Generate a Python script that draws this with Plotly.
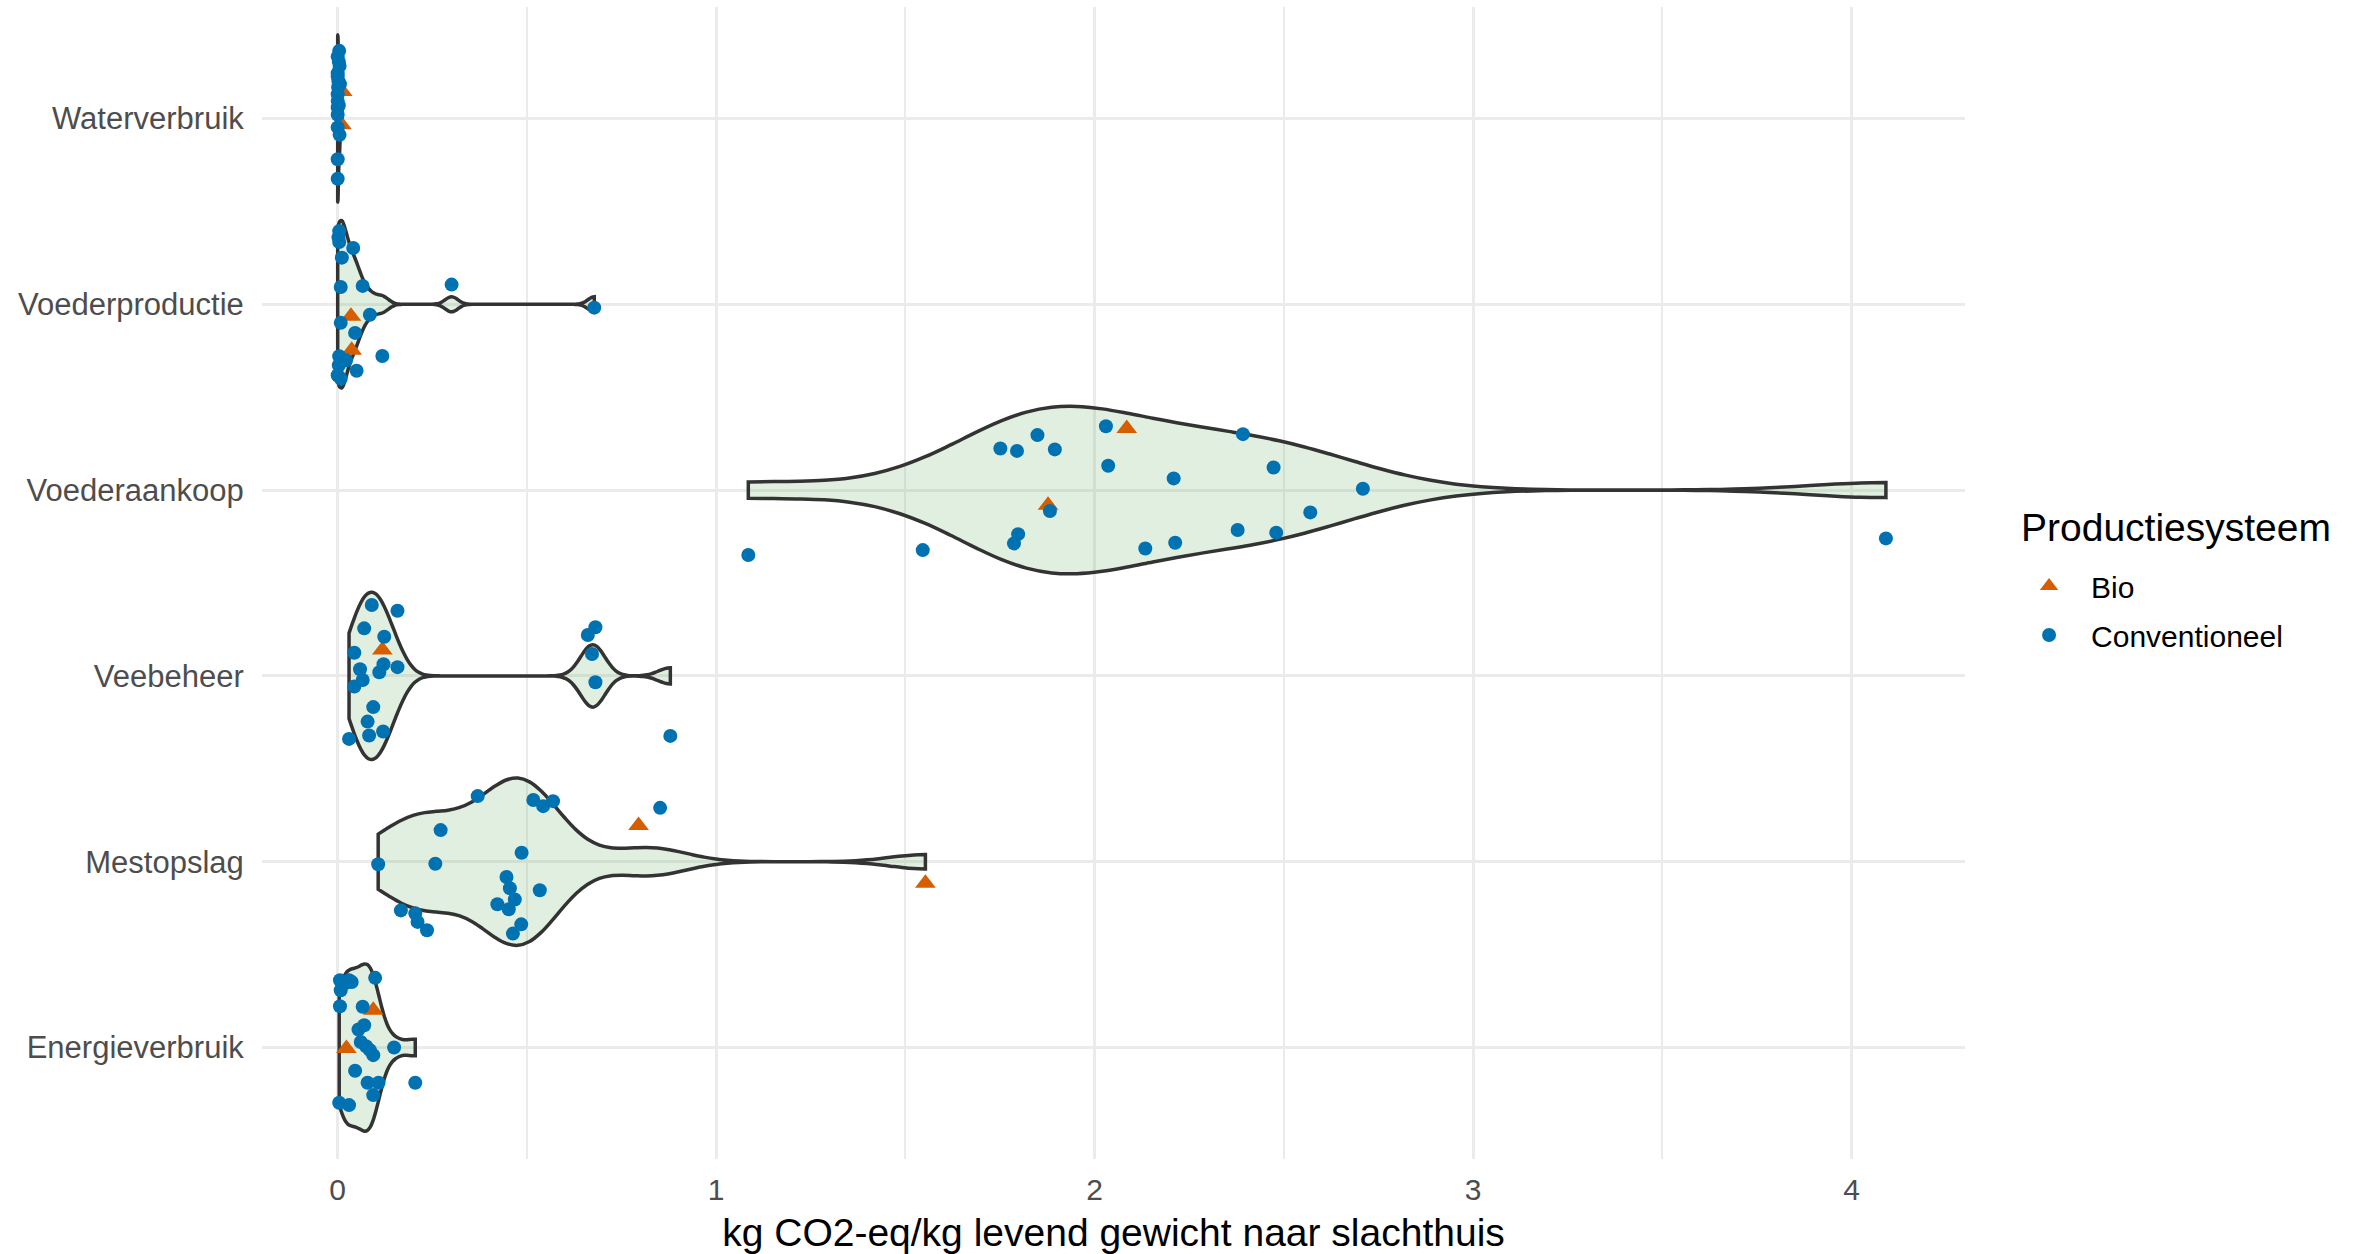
import numpy as np
import plotly.graph_objects as go

# categories bottom -> top
categories = ["Energieverbruik", "Mestopslag", "Veebeheer", "Voederaankoop", "Voederproductie", "Waterverbruik"]

# values (kg CO2-eq/kg) and vertical jitter offsets
energie_conv_x = [0.006, 0.022, 0.037, 0.008, 0.099, 0.006, 0.066, 0.070, 0.055, 0.061, 0.075,
                  0.085, 0.094, 0.149, 0.046, 0.079, 0.108, 0.094, 0.205, 0.004, 0.030, 0.030]
energie_conv_dy = [0.362, 0.348, 0.353, 0.308, 0.375, 0.222, 0.219, 0.120, 0.097, 0.030, 0.007,
                   -0.014, -0.041, 0.000, -0.125, -0.190, -0.190, -0.256, -0.190, -0.297, -0.310, 0.362]
energie_bio_x = [0.094, 0.023]
energie_bio_dy = [0.200, -0.005]

mest_conv_x = [0.370, 0.517, 0.543, 0.569, 0.852, 0.272, 0.486, 0.107, 0.258, 0.446, 0.455,
               0.534, 0.468, 0.422, 0.452, 0.485, 0.463, 0.167, 0.205, 0.211, 0.236]
mest_conv_dy = [0.353, 0.332, 0.299, 0.326, 0.290, 0.170, 0.048, -0.014, -0.011, -0.082, -0.143,
                -0.154, -0.203, -0.229, -0.256, -0.337, -0.387, -0.262, -0.278, -0.324, -0.369]
mest_bio_x = [0.795, 1.553]
mest_bio_dy = [0.195, -0.116]

vee_conv_x = [0.090, 0.158, 0.070, 0.123, 0.044, 0.121, 0.158, 0.059, 0.110, 0.066, 0.044,
              0.094, 0.079, 0.120, 0.083, 0.030, 0.661, 0.681, 0.672, 0.681, 0.879]
vee_conv_dy = [0.382, 0.351, 0.256, 0.211, 0.125, 0.063, 0.047, 0.036, 0.020, -0.022, -0.057,
               -0.168, -0.246, -0.299, -0.321, -0.339, 0.220, 0.262, 0.118, -0.034, -0.323]
vee_bio_x = [0.118]
vee_bio_dy = [0.140]

aankoop_conv_x = [1.751, 1.795, 1.849, 1.895, 2.030, 2.036, 2.209, 2.392, 2.473, 2.570, 2.378,
                  2.480, 2.213, 2.134, 1.787, 1.798, 1.882, 1.546, 1.085, 2.709, 4.091]
aankoop_conv_dy = [0.224, 0.211, 0.296, 0.219, 0.344, 0.131, 0.063, 0.301, 0.122, -0.120, -0.215,
                   -0.229, -0.283, -0.314, -0.287, -0.237, -0.113, -0.323, -0.349, 0.007, -0.260]
aankoop_bio_x = [2.085, 1.877]
aankoop_bio_dy = [0.332, -0.081]

productie_conv_x = [0.004, 0.004, 0.041, 0.011, 0.008, 0.066, 0.301, 0.678, 0.085, 0.008, 0.046,
                    0.118, 0.004, 0.022, 0.003, 0.050, 0.000, 0.008, 0.002]
productie_conv_dy = [0.394, 0.335, 0.303, 0.251, 0.093, 0.099, 0.106, -0.018, -0.056, -0.100, -0.154,
                     -0.278, -0.280, -0.301, -0.328, -0.358, -0.382, -0.400, 0.360]
productie_bio_x = [0.035, 0.037]
productie_bio_dy = [-0.065, -0.247]

water_conv_x = [0.004, 0.000, 0.005, 0.000, 0.000, 0.006, 0.000, 0.000, 0.000, 0.000, 0.000,
                0.005, 0.000, 0.000, 0.003, 0.002, 0.001, 0.003]
water_conv_dy = [0.364, 0.333, 0.283, 0.244, 0.226, 0.185, 0.131, 0.095, 0.059, 0.020, -0.048,
                 -0.088, -0.219, -0.324, 0.306, 0.200, 0.170, 0.070]
water_bio_x = [0.012, 0.010]
water_bio_dy = [0.145, -0.034]

conv_x = [energie_conv_x, mest_conv_x, vee_conv_x, aankoop_conv_x, productie_conv_x, water_conv_x]
conv_dy = [energie_conv_dy, mest_conv_dy, vee_conv_dy, aankoop_conv_dy, productie_conv_dy, water_conv_dy]
bio_x = [energie_bio_x, mest_bio_x, vee_bio_x, aankoop_bio_x, productie_bio_x, water_bio_x]
bio_dy = [energie_bio_dy, mest_bio_dy, vee_bio_dy, aankoop_bio_dy, productie_bio_dy, water_bio_dy]


def nrd0(x):
    # R's default bandwidth (bw.nrd0)
    x = np.asarray(x, dtype=float)
    hi = np.std(x, ddof=1)
    q75, q25 = np.percentile(x, [75, 25])
    lo = min(hi, (q75 - q25) / 1.34)
    if not lo:
        lo = hi or abs(x[0]) or 1.0
    return 0.9 * lo * len(x) ** -0.2


fig = go.Figure()

for i, cat in enumerate(categories):
    pos = i + 1
    vals = list(conv_x[i]) + list(bio_x[i])
    fig.add_trace(go.Violin(
        x=vals, y0=pos, orientation="h", width=0.9,
        scalemode="width", spanmode="hard", bandwidth=nrd0(vals),
        points=False, fillcolor="rgba(120,180,120,0.22)",
        line=dict(color="#333333", width=3.5), showlegend=False, hoverinfo="skip",
    ))

bio_px, bio_py, conv_px, conv_py = [], [], [], []
for i in range(len(categories)):
    bio_px += bio_x[i]
    bio_py += [i + 1 + d for d in bio_dy[i]]
    conv_px += conv_x[i]
    conv_py += [i + 1 + d for d in conv_dy[i]]

fig.add_trace(go.Scatter(x=bio_px, y=bio_py, mode="markers", name="Bio", legendgroup="bio",
                         marker=dict(symbol="triangle-up", size=18, color="#D55E00")))
fig.add_trace(go.Scatter(x=conv_px, y=conv_py, mode="markers", name="Conventioneel", legendgroup="conv",
                         marker=dict(symbol="circle", size=14, color="#0072B2")))

fig.add_annotation(text="Productiesysteem", xref="paper", yref="paper",
                   x=1.0317, y=0.5486, xanchor="left", yanchor="middle", showarrow=False,
                   font=dict(size=39, color="black"))

fig.update_layout(
    width=2361, height=1254,
    margin=dict(l=262, r=396, t=7, b=95),
    plot_bgcolor="white", paper_bgcolor="white",
    font=dict(family="Liberation Sans, Arial, sans-serif", color="black"),
    violinmode="overlay",
    legend=dict(
        font=dict(size=30, color="black"),
        x=1.0247, xanchor="left", y=0.52, yanchor="top",
        bgcolor="rgba(0,0,0,0)", tracegroupgap=7, itemwidth=74,
    ),
    xaxis=dict(
        range=[-0.20, 4.30], tickvals=[0, 1, 2, 3, 4], ticktext=["0", "1", "2", "3", "4"],
        showgrid=True, gridcolor="#EBEBEB", gridwidth=3,
        minor=dict(dtick=0.5, tick0=0, showgrid=True, gridcolor="#EBEBEB", gridwidth=1.5),
        zeroline=False, showline=False,
        ticks="outside", ticklen=4, tickcolor="rgba(0,0,0,0)",
        tickfont=dict(size=30, color="#4D4D4D"),
        title=dict(text="kg CO2-eq/kg levend gewicht naar slachthuis",
                   font=dict(size=39, color="black"), standoff=13),
    ),
    yaxis=dict(
        type="linear", range=[0.4, 6.6],
        tickvals=[1, 2, 3, 4, 5, 6], ticktext=categories,
        showgrid=True, gridcolor="#EBEBEB", gridwidth=3,
        zeroline=False, showline=False,
        ticks="outside", ticklen=11, tickcolor="rgba(0,0,0,0)",
        tickfont=dict(size=31, color="#4D4D4D"),
    ),
)

fig.write_html("out.html", config={"displayModeBar": False},
               post_script="document.body.style.margin='0px';")
